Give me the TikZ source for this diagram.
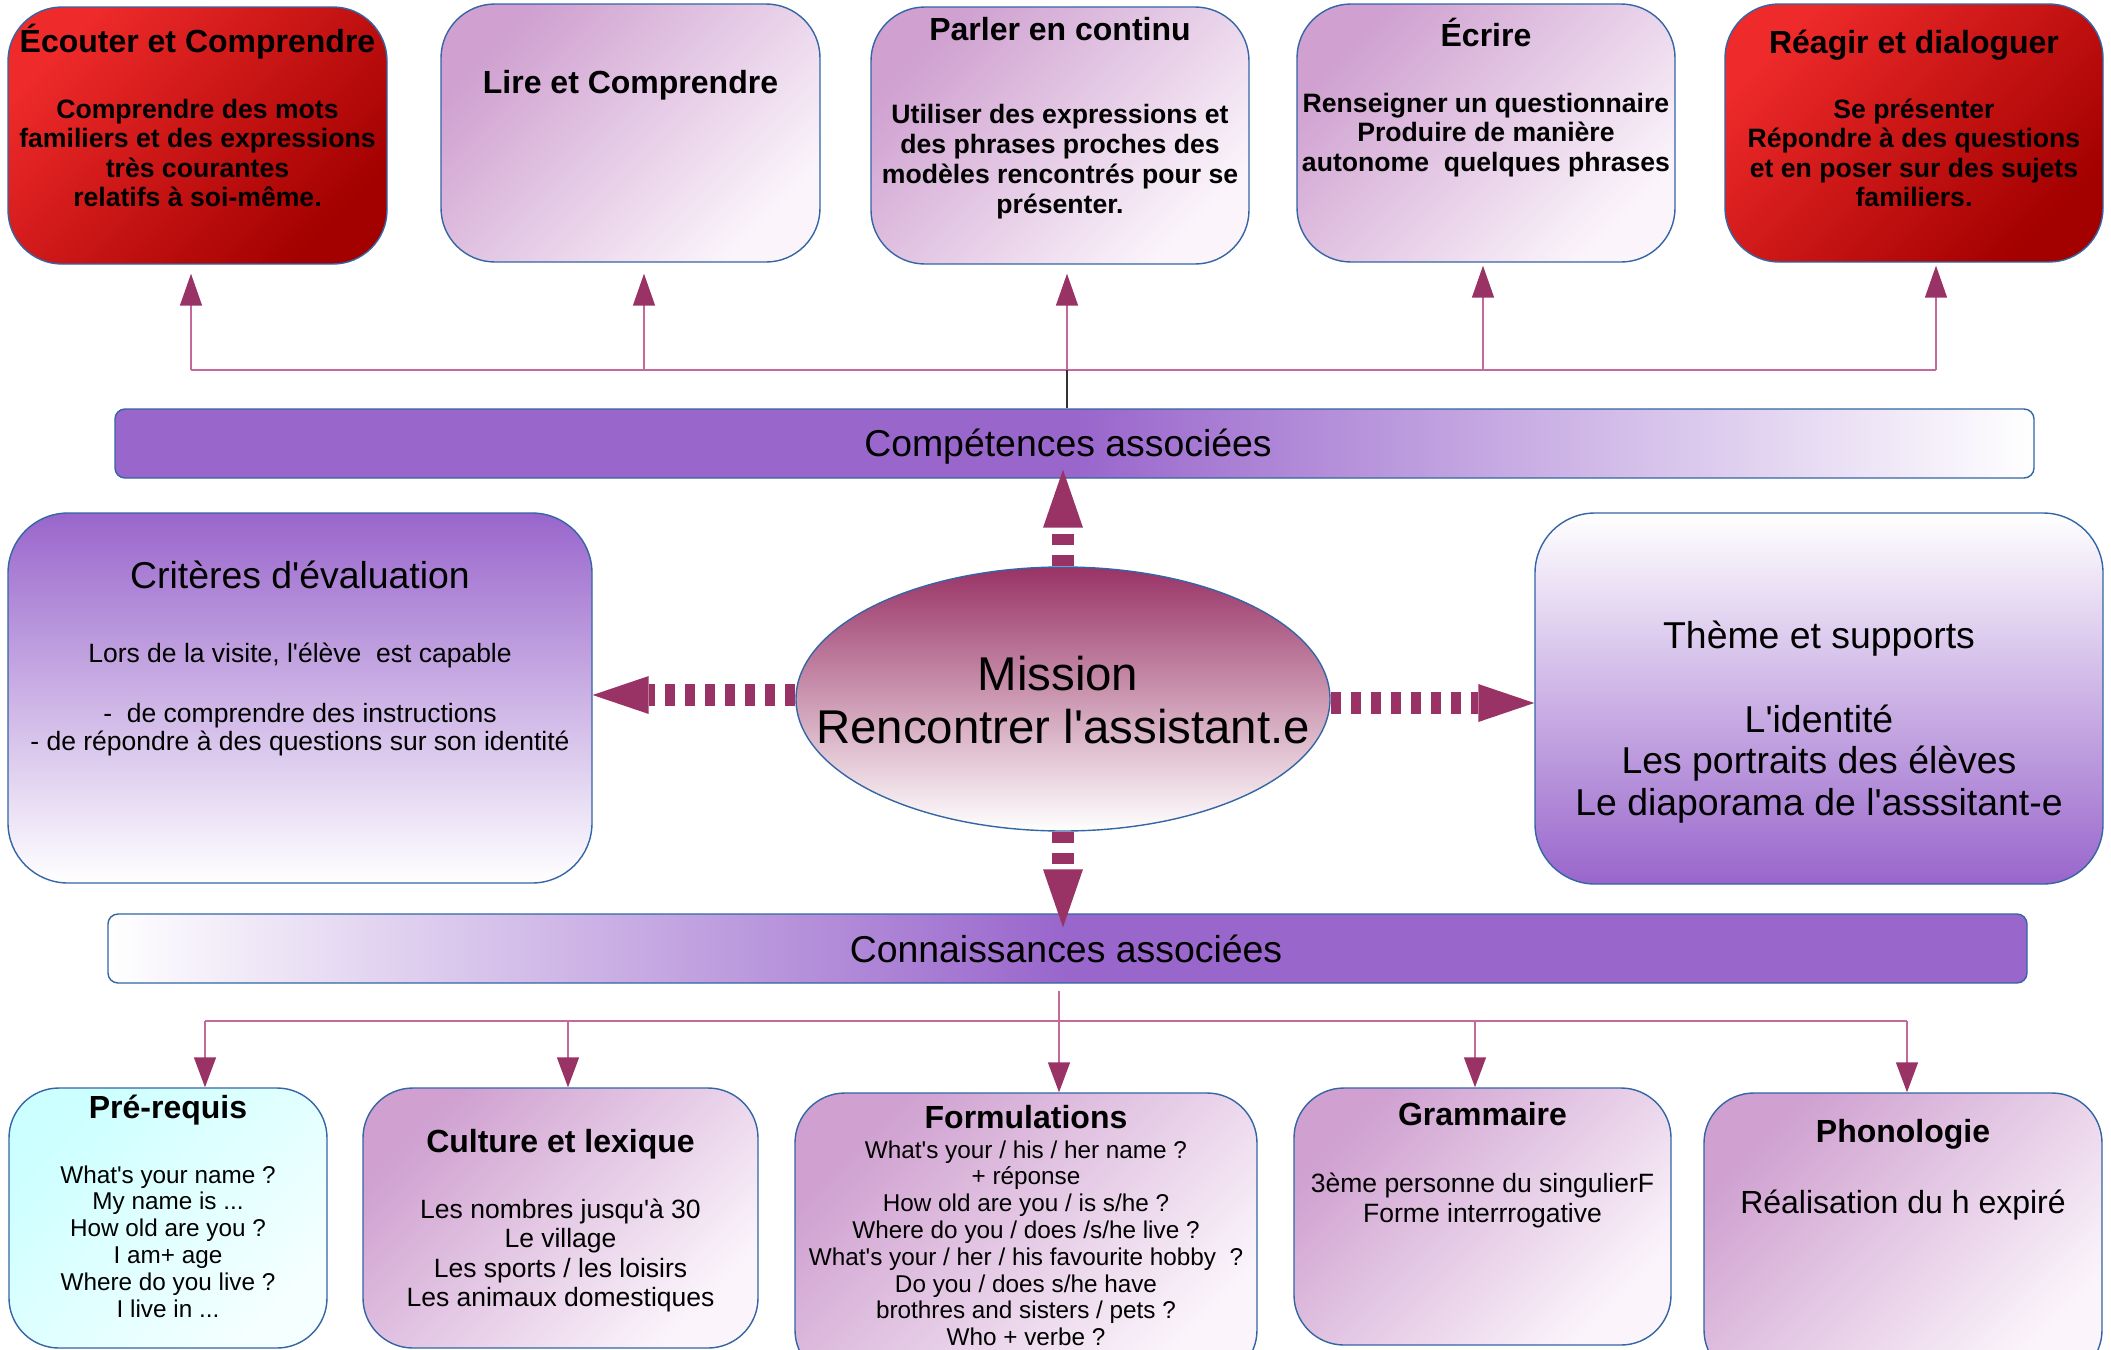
\documentclass[tikz,border=0pt]{standalone}
\usepackage{fontspec}
\newfontfamily\lib{Liberation Sans}
\usetikzlibrary{arrows.meta,shapes.geometric}
\definecolor{purp}{HTML}{9966CC}
\definecolor{lilac}{HTML}{CFA0D0}
\definecolor{lilacw}{HTML}{FBF5FB}
\definecolor{redtl}{HTML}{EE2A2A}
\definecolor{redbr}{HTML}{A30000}
\definecolor{cyantl}{HTML}{CCFFFF}
\definecolor{cyanbr}{HTML}{F5FFFF}
\definecolor{wine}{HTML}{993366}
\definecolor{bord}{HTML}{3465A4}
\definecolor{linec}{HTML}{C4699A}
\newcommand\tdots{...}
\begin{document}
\begin{tikzpicture}[x=0.5pt,y=-0.5pt,
  mybox/.style={rectangle, rounded corners=27pt, draw=bord, line width=0.7pt, inner sep=0pt},
  redbox/.style={mybox, top color=redtl, bottom color=redbr, shading angle=45},
  lilbox/.style={mybox, top color=lilac, bottom color=lilacw, shading angle=45},
  cyanbox/.style={mybox, top color=cyantl, bottom color=cyanbr, shading angle=45},
  hbar/.style={rectangle, rounded corners=5pt, draw=bord, line width=0.7pt, inner sep=0pt,
     minimum width=959.5pt, minimum height=34.5pt},
  ttl/.style={anchor=base, inner sep=0pt, font=\lib\fontsize{16}{19}\selectfont\bfseries},
  tbody/.style={anchor=base, inner sep=0pt, font=\lib\fontsize{13.3}{15}\selectfont\bfseries},
  bigtxt/.style={anchor=base, inner sep=0pt, font=\lib\fontsize{18.7}{21}\selectfont},
  midtxt/.style={anchor=base, inner sep=0pt, font=\lib\fontsize{13.25}{15}\selectfont},
  smalltxt/.style={anchor=base, inner sep=0pt, font=\lib\fontsize{12.15}{14}\selectfont},
  conn/.style={draw=linec, line width=0.75pt},
  uparr/.style={conn, -{Triangle[length=16pt,width=11pt,color=wine]}},
  dnarr/.style={conn, -{Triangle[length=15pt,width=11pt,color=wine]}},
  bigarr/.style={draw=wine, line width=11pt, dash pattern=on 5.5pt off 5pt,
     -{Triangle[length=29pt,width=20pt,line width=0pt]}},
  sidearr/.style={draw=wine, line width=11pt, dash pattern=on 5pt off 5pt,
     -{Triangle[length=28pt,width=19pt,line width=0pt]}}
]
\useasboundingbox (0,0) rectangle (2111,1350);
\clip (0,0) rectangle (2111,1350);
\fill[white] (0,0) rectangle (2111,1350);

% top boxes
\node[redbox, minimum width=189.5pt, minimum height=128.5pt] (ec) at (197.5,135.5) {};
\node[lilbox, minimum width=189.5pt, minimum height=129pt] (li) at (630.5,133) {};
\node[lilbox, minimum width=189pt, minimum height=128.5pt] (pa) at (1060,135.5) {};
\node[lilbox, minimum width=189pt, minimum height=129pt] (ecr) at (1486,133) {};
\node[redbox, minimum width=189pt, minimum height=129pt] (re) at (1914,133) {};

% bars
\node[hbar, left color=purp, right color=white, middle color=purp] (cp) at (1074.5,443.5) {};
\node[hbar, left color=white, right color=purp, middle color=purp] (cn) at (1067.5,948.5) {};

% middle boxes
\node[mybox, rounded corners=30pt, top color=purp, bottom color=white, minimum width=292pt, minimum height=185pt] (cr) at (300,698) {};
\node[mybox, rounded corners=30pt, top color=white, bottom color=purp, minimum width=284pt, minimum height=185.5pt] (th) at (1819,698.5) {};
\node[ellipse, draw=bord, line width=0.7pt, top color=wine, bottom color=white, minimum width=267pt, minimum height=132pt, inner sep=0pt] (mi) at (1063,699) {};

% bottom boxes
\node[cyanbox, rounded corners=25pt, minimum width=159pt, minimum height=130pt] (pr) at (168,1218) {};
\node[lilbox, rounded corners=25pt, minimum width=197.5pt, minimum height=130pt] (cu) at (560.5,1218) {};
\node[lilbox, rounded corners=25pt, minimum width=231pt, minimum height=143.5pt] (fo) at (1026,1236.5) {};
\node[lilbox, rounded corners=25pt, minimum width=188.5pt, minimum height=128.5pt] (gr) at (1482.5,1216.5) {};
\node[lilbox, rounded corners=25pt, minimum width=199pt, minimum height=143.5pt] (ph) at (1903,1236.5) {};

% top connectors
\coordinate (t1) at (191,370);
\coordinate (t2) at (644,370);
\coordinate (t3) at (1067,370);
\coordinate (t4) at (1483,370);
\coordinate (t5) at (1936,370);
\draw[conn] (t1) -- (t5);
\draw[draw=black!80, line width=0.6pt] (cp.north -| t3) -- (t3);
\draw[uparr, shorten >=4.5pt] (t1) -- (t1 |- ec.south);
\draw[uparr, shorten >=5.5pt] (t2) -- (t2 |- li.south);
\draw[uparr, shorten >=4.5pt] (t3) -- (t3 |- pa.south);
\draw[uparr, shorten >=1.5pt] (t4) -- (t4 |- ecr.south);
\draw[uparr, shorten >=1.5pt] (t5) -- (t5 |- re.south);

% bottom connectors
\coordinate (b1) at (205,1021);
\coordinate (b2) at (568,1021);
\coordinate (b3) at (1059,1021);
\coordinate (b4) at (1475,1021);
\coordinate (b5) at (1907,1021);
\draw[conn] (b1) -- (b5);
\draw[dnarr, shorten <=3.5pt] (cn.south -| b3) -- (fo.north -| b3);
\draw[dnarr] (b1) -- (b1 |- pr.north);
\draw[dnarr] (b2) -- (b2 |- cu.north);
\draw[dnarr] (b4) -- (b4 |- gr.north);
\draw[dnarr] (b5) -- (b5 |- ph.north);

% big dashed arrows
\draw[bigarr, shorten >=-4.5pt] (mi.north) -- (mi.north |- cp.south);
\draw[bigarr, shorten >=-7pt] (mi.south) -- (mi.south |- cn.north);
\draw[sidearr] ([yshift=2pt]mi.west) -- ([yshift=2pt]mi.west -| cr.east);
\draw[sidearr] ([yshift=-2pt]mi.east) -- ([yshift=-2pt]mi.east -| th.west);

% top texts
\node[ttl] (ec-t) at (197.5,52) {Écouter et Comprendre};
\foreach \t [count=\i] in {Comprendre des mots, familiers et des expressions, très courantes, relatifs à soi-même.}
  \node[tbody, name=ec-\i] at (197.5,{118+29.5*(\i-1)}) {\t};
\node[ttl] (li-t) at (630.5,93) {Lire et Comprendre};
\node[ttl] (pa-t) at (1060,40) {Parler en continu};
\foreach \t [count=\i] in {Utiliser des expressions et, des phrases proches des, modèles rencontrés pour se, présenter.}
  \node[tbody, name=pa-\i] at (1060,{123+30*(\i-1)}) {\t};
\node[ttl] (ecr-t) at (1486,46) {Écrire};
\foreach \t [count=\i] in {Renseigner un questionnaire, Produire de manière, autonome\ \ quelques phrases}
  \node[tbody, name=ecr-\i] at (1486,{112+29.5*(\i-1)}) {\t};
\node[ttl] (re-t) at (1914,53) {Réagir et dialoguer};
\foreach \t [count=\i] in {Se présenter, Répondre à des questions, et en poser sur des sujets, familiers.}
  \node[tbody, name=re-\i] at (1914,{118+29.5*(\i-1)}) {\t};

% bar texts
\node[bigtxt] (cp-t) at (1068,456) {Compétences associées};
\node[bigtxt] (cn-t) at (1066,962) {Connaissances associées};

% middle texts
\node[bigtxt] (cr-t) at (300,588) {Critères d'évaluation};
\node[midtxt] (cr-1) at (300,662) {Lors de la visite, l'élève\ \ est capable};
\node[midtxt] (cr-2) at (300,722) {-\ \ de comprendre des instructions};
\node[midtxt] (cr-3) at (300,750.5) {- de répondre à des questions sur son identité};
\node[bigtxt] (th-t) at (1819,648) {Thème et supports};
\node[bigtxt] (th-1) at (1819,732) {L'identité};
\node[bigtxt] (th-2) at (1819,773.5) {Les portraits des élèves};
\node[bigtxt] (th-3) at (1819,815) {Le diaporama de l'asssitant-e};
\node[anchor=base, inner sep=0pt, font=\lib\fontsize{23.7}{27}\selectfont] (mi-1) at (1058,690) {Mission};
\node[anchor=base, inner sep=0pt, font=\lib\fontsize{23.7}{27}\selectfont] (mi-2) at (1063,743) {Rencontrer l'assistant.e};

% bottom texts
\node[ttl] (pr-t) at (168,1118) {Pré-requis};
\foreach \t [count=\i] in {What's your name ?, My name is \tdots, How old are you ?, I am+ age, Where do you live ?, I live in \tdots}
  \node[smalltxt, name=pr-\i] at (168,{1183+26.8*(\i-1)}) {\t};
\node[ttl] (cu-t) at (560.5,1152) {Culture et lexique};
\foreach \t [count=\i] in {Les nombres jusqu'à 30, Le village, Les sports / les loisirs, Les animaux domestiques}
  \node[midtxt, name=cu-\i] at (560.5,{1218+29.6*(\i-1)}) {\t};
\node[ttl] (fo-t) at (1026,1128) {Formulations};
\foreach \t [count=\i] in {What's your / his / her name ?, + réponse, How old are you / is s/he ?, Where do you / does /s/he live ?, What's your / her / his favourite hobby\ \ ?, Do you / does s/he have, brothres and sisters / pets ?, Who + verbe ?}
  \node[smalltxt, name=fo-\i] at (1026,{1158+26.8*(\i-1)}) {\t};
\node[ttl] (gr-t) at (1482.5,1125) {Grammaire};
\node[midtxt] (gr-1) at (1482.5,1192) {3ème personne du singulierF};
\node[midtxt] (gr-2) at (1482.5,1222) {Forme interrrogative};
\node[ttl] (ph-t) at (1903,1142) {Phonologie};
\node[anchor=base, inner sep=0pt, font=\lib\fontsize{16}{19}\selectfont] (ph-1) at (1903,1213) {Réalisation du h expiré};
\end{tikzpicture}
\end{document}
